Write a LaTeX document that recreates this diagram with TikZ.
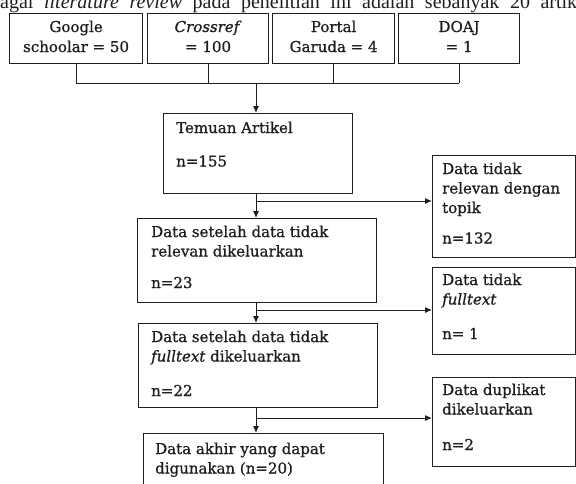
\documentclass[tikz,border=0pt]{standalone}
\usepackage{fontspec}
\setmainfont{DejaVu Serif}[FakeBold=0.8]
\newfontfamily\hdrfont{Liberation Serif}
\usetikzlibrary{arrows.meta}
\definecolor{ink}{HTML}{1E1E1E}
\begin{document}
\begin{tikzpicture}[x=1pt,y=-1pt,
  box/.style={draw=ink, line width=1.2pt, rectangle, inner sep=0pt, anchor=north west},
  lbl/.style={anchor=base west, inner sep=0pt, text=ink, font=\fontsize{15}{19.5}\selectfont},
  clbl/.style={anchor=base, inner sep=0pt, text=ink, font=\fontsize{15}{20}\selectfont},
  conn/.style={draw=ink, line width=1pt},
  arr/.style={conn, -{Latex[length=7pt,width=6pt]}}]
\useasboundingbox (0,0) rectangle (576,483);
\clip (0,0) rectangle (576,483);

% header line (cut off at the top)
\node[anchor=base west, inner sep=0pt, text=ink, font=\hdrfont\fontsize{20}{23}\selectfont] (hdr) at (0,8)
  {\makebox[577pt][s]{agai \textit{literature review} pada penelitian ini adalah sebanyak 20 artik}};

% source boxes
\node[box, minimum width=133pt, minimum height=50pt] (g) at (9,13) {};
\node[box, minimum width=121pt, minimum height=50pt] (c) at (147,13) {};
\node[box, minimum width=122pt, minimum height=50pt] (p) at (272,13) {};
\node[box, minimum width=121pt, minimum height=50pt] (d) at (398,13) {};
\node[clbl] (gt) at (g.center |- 0,32) {\parbox[t]{130pt}{\centering Google\\schoolar = 50}};
\node[clbl] (ct) at (c.center |- 0,32) {\parbox[t]{118pt}{\centering \textit{Crossref}\\= 100}};
\node[clbl] (pt) at (p.center |- 0,32) {\parbox[t]{118pt}{\centering Portal\\Garuda = 4}};
\node[clbl] (dt) at (d.center |- 0,32) {\parbox[t]{118pt}{\centering DOAJ\\= 1}};

% main column
\node[box, minimum width=189pt, minimum height=80pt] (t) at (163,113) {};
\node[lbl] (tt) at (176,133) {\parbox[t]{170pt}{Temuan Artikel\\[14pt]n=155}};

\node[box, minimum width=239pt, minimum height=84pt] (a) at (137,218) {};
\node[lbl] (at) at (151,237) {\parbox[t]{220pt}{Data setelah data tidak\\relevan dikeluarkan\\[12pt]n=23}};

\node[box, minimum width=239pt, minimum height=84pt] (b) at (138,323) {};
\node[lbl] (bt) at (151,342) {\parbox[t]{220pt}{Data setelah data tidak\\\textit{fulltext} dikeluarkan\\[15pt]n=22}};

\node[box, minimum width=240pt, minimum height=70pt] (f) at (143,433) {};
\node[lbl] (ft) at (155,454) {\parbox[t]{220pt}{Data akhir yang dapat\\digunakan (n=20)}};

% side boxes
\node[box, minimum width=143pt, minimum height=102pt] (r1) at (432,155) {};
\node[lbl] (r1t) at (442,174) {\parbox[t]{130pt}{Data tidak\\relevan dengan\\topik\\[11pt]n=132}};

\node[box, minimum width=143pt, minimum height=87pt] (r2) at (432,267) {};
\node[lbl] (r2t) at (442,285) {\parbox[t]{130pt}{Data tidak\\\textit{fulltext}\\[15pt]n= 1}};

\node[box, minimum width=143pt, minimum height=89pt] (r3) at (432,377) {};
\node[lbl] (r3t) at (442,395) {\parbox[t]{130pt}{Data duplikat\\dikeluarkan\\[16pt]n=2}};

% connectors
\coordinate (bar) at (256,83);
\draw[conn] (g.south) -- (g.south |- bar);
\draw[conn] (c.south) -- (c.south |- bar);
\draw[conn] (p.south) -- (p.south |- bar);
\draw[conn] (d.south) -- (d.south |- bar);
\draw[conn] (g.south |- bar) -- (d.south |- bar);
\draw[arr] (bar) -- (bar |- t.north);

\coordinate (b1) at (256,201);
\coordinate (b2) at (256,310);
\coordinate (b3) at (256,418);
\draw[arr] (bar |- t.south) -- (bar |- a.north);
\draw[arr] (b1) -- (r1.west |- b1);
\draw[arr] (bar |- a.south) -- (bar |- b.north);
\draw[arr] (b2) -- (r2.west |- b2);
\draw[arr] (bar |- b.south) -- (bar |- f.north);
\draw[arr] (b3) -- (r3.west |- b3);
\end{tikzpicture}
\end{document}
